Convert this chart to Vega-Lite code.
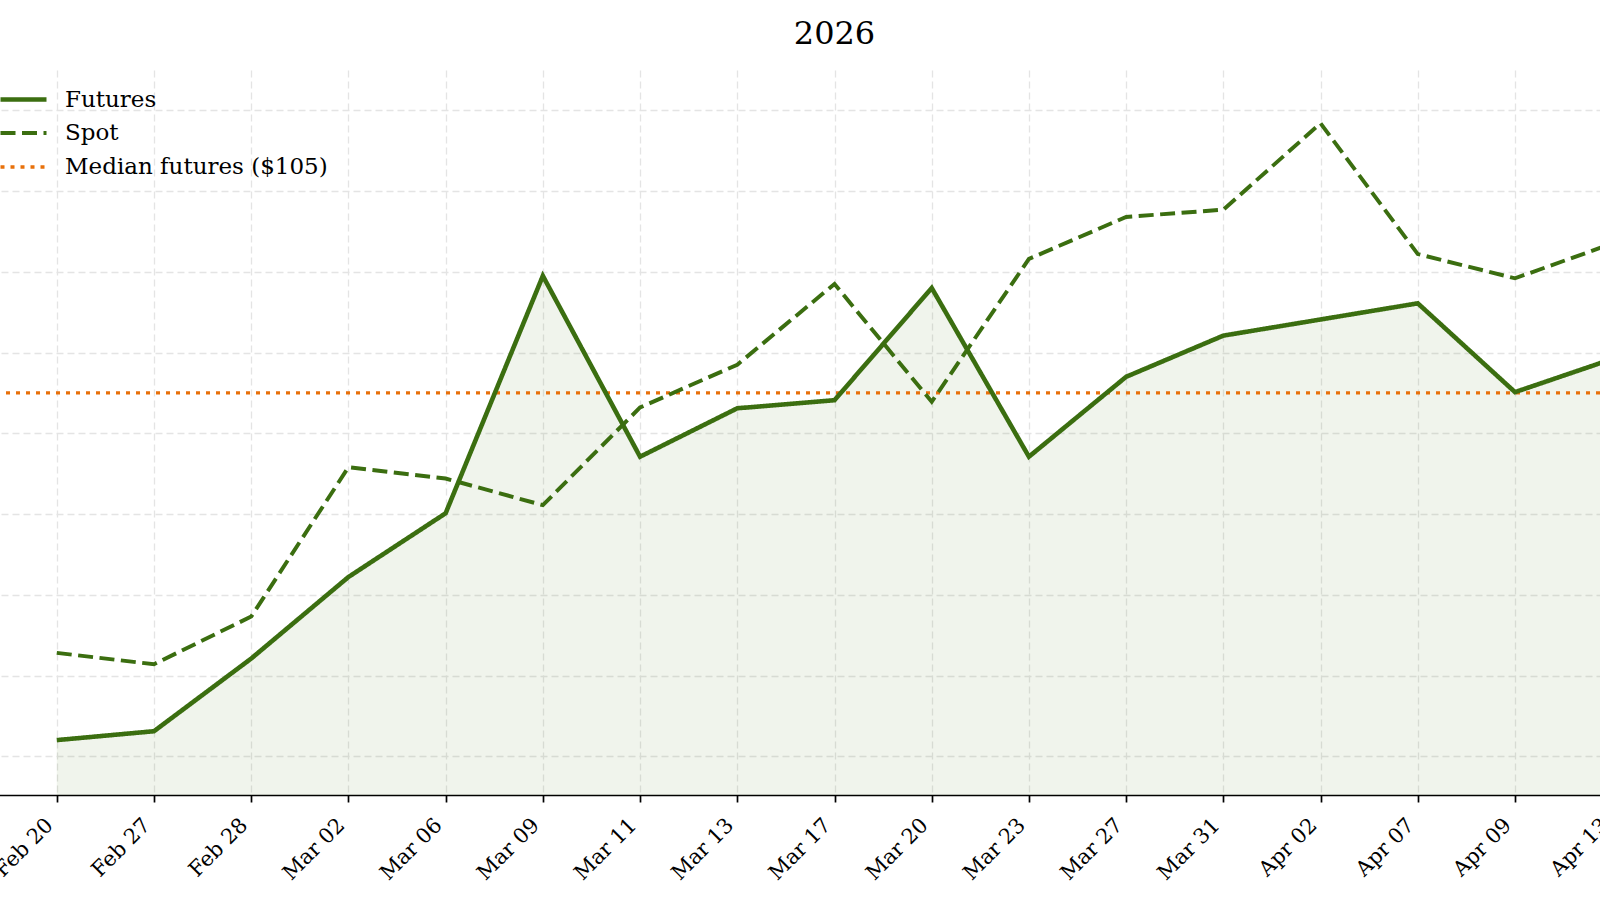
{
  "$schema": "https://vega.github.io/schema/vega-lite/v6.json",
  "width": 1711,
  "height": 725,
  "autosize": {"type": "none"},
  "padding": {"left": -21, "top": 70, "right": -90, "bottom": 105},
  "background": "white",
  "config": {
    "font": "DejaVu Serif",
    "view": {"stroke": null}
  },
  "title": {
    "text": "2026",
    "fontSize": 32,
    "fontWeight": "normal",
    "color": "#000000",
    "anchor": "middle",
    "offset": 19
  },
  "data": {
    "values": [
      {"date": "Feb 20", "series": "Futures", "price": 62.0},
      {"date": "Feb 27", "series": "Futures", "price": 63.1},
      {"date": "Feb 28", "series": "Futures", "price": 72.1},
      {"date": "Mar 02", "series": "Futures", "price": 82.2},
      {"date": "Mar 06", "series": "Futures", "price": 90.1},
      {"date": "Mar 09", "series": "Futures", "price": 119.5},
      {"date": "Mar 11", "series": "Futures", "price": 97.1},
      {"date": "Mar 13", "series": "Futures", "price": 103.1},
      {"date": "Mar 17", "series": "Futures", "price": 104.1},
      {"date": "Mar 20", "series": "Futures", "price": 118.0},
      {"date": "Mar 23", "series": "Futures", "price": 97.1},
      {"date": "Mar 27", "series": "Futures", "price": 107.0},
      {"date": "Mar 31", "series": "Futures", "price": 112.1},
      {"date": "Apr 02", "series": "Futures", "price": 114.1},
      {"date": "Apr 07", "series": "Futures", "price": 116.1},
      {"date": "Apr 09", "series": "Futures", "price": 105.1},
      {"date": "Apr 13", "series": "Futures", "price": 109.2},
      {"date": "Feb 20", "series": "Spot", "price": 72.8},
      {"date": "Feb 27", "series": "Spot", "price": 71.4},
      {"date": "Feb 28", "series": "Spot", "price": 77.3},
      {"date": "Mar 02", "series": "Spot", "price": 95.8},
      {"date": "Mar 06", "series": "Spot", "price": 94.4},
      {"date": "Mar 09", "series": "Spot", "price": 91.1},
      {"date": "Mar 11", "series": "Spot", "price": 103.2},
      {"date": "Mar 13", "series": "Spot", "price": 108.5},
      {"date": "Mar 17", "series": "Spot", "price": 118.5},
      {"date": "Mar 20", "series": "Spot", "price": 103.9},
      {"date": "Mar 23", "series": "Spot", "price": 121.6},
      {"date": "Mar 27", "series": "Spot", "price": 126.8},
      {"date": "Mar 31", "series": "Spot", "price": 127.7},
      {"date": "Apr 02", "series": "Spot", "price": 138.4},
      {"date": "Apr 07", "series": "Spot", "price": 122.2},
      {"date": "Apr 09", "series": "Spot", "price": 119.2},
      {"date": "Apr 13", "series": "Spot", "price": 123.5},
      {"series": "Median futures ($105)", "price": 105}
    ]
  },
  "layer": [
    {
      "transform": [{"filter": "datum.series == 'Futures'"}],
      "mark": {"type": "area", "color": "#3b6e10", "opacity": 0.08},
      "encoding": {
        "x": {
          "field": "date",
          "type": "ordinal",
          "sort": null,
          "title": null,
          "scale": {"type": "point", "padding": 0.8},
          "axis": {
            "domainColor": "#000000",
            "domainWidth": 1.7,
            "tickColor": "#000000",
            "tickWidth": 1.7,
            "tickSize": 7,
            "labelAngle": -45,
            "labelAlign": "right",
            "labelBaseline": "top",
            "labelPadding": 12,
            "labelOffset": -15,
            "labelFontSize": 21,
            "labelColor": "#000000",
            "grid": true,
            "gridColor": "#e4e4e4",
            "gridWidth": 1.3,
            "gridDash": [7, 4]
          }
        },
        "y": {
          "field": "price",
          "type": "quantitative",
          "title": null,
          "scale": {"domain": [55.2, 145], "nice": false, "zero": false},
          "axis": {
            "values": [60, 70, 80, 90, 100, 110, 120, 130, 140],
            "labels": false,
            "ticks": false,
            "domain": false,
            "grid": true,
            "gridColor": "#e4e4e4",
            "gridWidth": 1.3,
            "gridDash": [7, 4]
          }
        },
        "y2": {"datum": 55.2}
      }
    },
    {
      "transform": [{"filter": "datum.series == 'Median futures ($105)'"}],
      "mark": {"type": "rule"},
      "encoding": {
        "y": {"field": "price", "type": "quantitative"},
        "color": {
          "field": "series",
          "type": "nominal",
          "scale": {"domain": ["Futures", "Spot", "Median futures ($105)"], "range": ["#3b6e10", "#3b6e10", "#e8700a"]},
          "legend": {
            "title": null,
            "orient": "none",
            "legendX": 30.5,
            "legendY": 15.5,
            "padding": 0,
            "symbolType": "M-2,0H2",
            "symbolSize": 529,
            "labelFontSize": 23,
            "labelColor": "#000000",
            "labelLimit": 0,
            "labelOffset": 27.5,
            "rowPadding": 8
          }
        },
        "strokeDash": {
          "field": "series",
          "type": "nominal",
          "scale": {"domain": ["Futures", "Spot", "Median futures ($105)"], "range": [[1, 0], [15, 6.5], [4, 6]]}
        },
        "strokeWidth": {
          "field": "series",
          "type": "nominal",
          "scale": {"domain": ["Futures", "Spot", "Median futures ($105)"], "range": [4.6, 3.3, 3]}
        }
      }
    },
    {
      "transform": [{"filter": "datum.series != 'Median futures ($105)'"}],
      "mark": {"type": "line"},
      "encoding": {
        "x": {"field": "date", "type": "ordinal", "sort": null},
        "y": {"field": "price", "type": "quantitative"},
        "color": {"field": "series", "type": "nominal"},
        "strokeDash": {"field": "series", "type": "nominal"},
        "strokeWidth": {"field": "series", "type": "nominal"}
      }
    }
  ]
}
